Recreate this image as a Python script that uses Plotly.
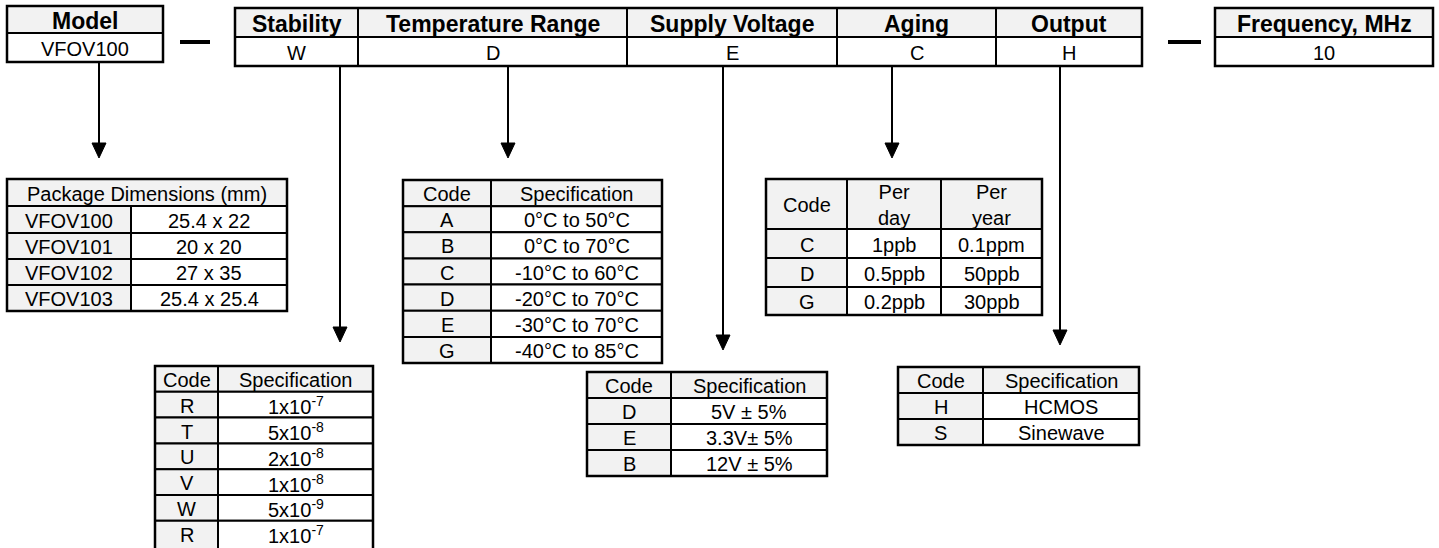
import plotly.graph_objects as go

W, H = 1439, 548

# ---------------- data ----------------
model_header = "Model"
model_value = "VFOV100"
field_names = ["Stability", "Temperature Range", "Supply Voltage", "Aging", "Output"]
field_values = ["W", "D", "E", "C", "H"]
freq_header = "Frequency, MHz"
freq_value = "10"

pkg_title = "Package Dimensions (mm)"
pkg_models = ["VFOV100", "VFOV101", "VFOV102", "VFOV103"]
pkg_dims = ["25.4 x 22", "20 x 20", "27 x 35", "25.4 x 25.4"]

spec_header = ["Code", "Specification"]

stab_codes = ["R", "T", "U", "V", "W", "R"]
stab_specs = ["1x10<sup>-7</sup>", "5x10<sup>-8</sup>", "2x10<sup>-8</sup>",
              "1x10<sup>-8</sup>", "5x10<sup>-9</sup>", "1x10<sup>-7</sup>"]

temp_codes = ["A", "B", "C", "D", "E", "G"]
temp_specs = ["0°C to 50°C", "0°C to 70°C", "-10°C to 60°C",
              "-20°C to 70°C", "-30°C to 70°C", "-40°C to 85°C"]

volt_codes = ["D", "E", "B"]
volt_specs = ["5V ± 5%", "3.3V± 5%", "12V ± 5%"]

aging_header = ["Code", "Per<br>day", "Per<br>year"]
aging_codes = ["C", "D", "G"]
aging_day = ["1ppb", "0.5ppb", "0.2ppb"]
aging_year = ["0.1ppm", "50ppb", "30ppb"]

out_codes = ["H", "S"]
out_specs = ["HCMOS", "Sinewave"]

# ---------------- style / layout ----------------
FONT = "Arial, Liberation Sans, sans-serif"
GRAY = "#f2f2f2"
LW = 2
CELL_FS = 20
HEAD_FS = 23

shapes = []
annotations = []


def rect(x0, y0, x1, y1, fill="white", lw=LW):
    shapes.append(dict(type="rect", xref="x", yref="y", x0=x0, y0=y0, x1=x1, y1=y1,
                       fillcolor=fill, line=dict(color="black", width=lw), layer="below"))


def text(x, y, s, size=CELL_FS, bold=False):
    annotations.append(dict(x=x, y=y, xref="x", yref="y", text=f"<b>{s}</b>" if bold else s,
                            showarrow=False, xanchor="center", yanchor="middle",
                            font=dict(family=FONT, size=size, color="black")))


def table(xs, ys, rows, header_span=False, gray_first_col=True, bold_header=False,
          head_size=CELL_FS, text_ys=None):
    """rows[0] is header row. xs/ys are edges."""
    for r, row in enumerate(rows):
        y0, y1 = ys[r], ys[r + 1]
        ty = text_ys[r] if text_ys else (y0 + y1) / 2 + 1
        if r == 0 and header_span:
            rect(xs[0], y0, xs[-1], y1, GRAY)
            text((xs[0] + xs[-1]) / 2, ty, row[0], head_size, bold_header)
            continue
        for c, val in enumerate(row):
            x0, x1 = xs[c], xs[c + 1]
            fill = GRAY if (r == 0 or (c == 0 and gray_first_col)) else "white"
            rect(x0, y0, x1, y1, fill)
            text((x0 + x1) / 2, ty, val,
                 head_size if r == 0 else CELL_FS, bold_header and r == 0)
    shapes.append(dict(type="rect", xref="x", yref="y", x0=xs[0], y0=ys[0], x1=xs[-1], y1=ys[-1],
                       line=dict(color="black", width=2.5), layer="below"))


def arrow(x, y0, tip, hw=7, hh=15):
    shapes.append(dict(type="line", xref="x", yref="y", x0=x, x1=x, y0=y0, y1=tip - hh + 2,
                       line=dict(color="black", width=2)))
    shapes.append(dict(type="path", xref="x", yref="y",
                       path=f"M {x - hw},{tip - hh} L {x + hw},{tip - hh} L {x},{tip} Z",
                       fillcolor="black", line=dict(color="black", width=1)))


def dash(x0, x1, y):
    shapes.append(dict(type="line", xref="x", yref="y", x0=x0, x1=x1, y0=y, y1=y,
                       line=dict(color="black", width=4)))


# top row boxes
table([7, 163], [6, 33, 62], [[model_header], [model_value]], gray_first_col=False,
      bold_header=True, head_size=HEAD_FS)
main_x = [235, 358, 627, 837, 996, 1142]
table(main_x, [8, 37, 66], [field_names, field_values], gray_first_col=False,
      bold_header=True, head_size=HEAD_FS)
table([1215, 1433], [8, 37, 66], [[freq_header], [freq_value]], gray_first_col=False,
      bold_header=True, head_size=HEAD_FS)
dash(180, 210, 42)
dash(1168, 1201, 42)

# package table
table([7, 131, 287], [179, 206, 233, 259, 285, 311],
      [[pkg_title]] + [[m, d] for m, d in zip(pkg_models, pkg_dims)], header_span=True)

# stability table (runs off the bottom edge, as in the original)
stab_rh = 25.8
stab_y = [366 + stab_rh * i for i in range(len(stab_codes) + 1)] + [556]
stab_ty = [366 + stab_rh * (i + 0.5) + 1 for i in range(len(stab_codes) + 1)]
table([155, 218, 373], stab_y, [spec_header] + [[c, s] for c, s in zip(stab_codes, stab_specs)],
      text_ys=stab_ty)

# temperature table
temp_y = [180 + 26.15 * i for i in range(len(temp_codes) + 2)]
table([403, 491, 662], temp_y, [spec_header] + [[c, s] for c, s in zip(temp_codes, temp_specs)])

# supply voltage table
volt_y = [372 + 26 * i for i in range(len(volt_codes) + 2)]
table([587, 671, 827], volt_y, [spec_header] + [[c, s] for c, s in zip(volt_codes, volt_specs)])

# aging table
table([766, 847, 941, 1042], [179, 229, 258, 287, 315],
      [aging_header] + [[c, d, y] for c, d, y in zip(aging_codes, aging_day, aging_year)])

# output table
out_y = [367 + 26 * i for i in range(len(out_codes) + 2)]
table([898, 983, 1139], out_y, [spec_header] + [[c, s] for c, s in zip(out_codes, out_specs)])

# arrows
arrow(99, 62, 158)
arrow(340, 66, 342)
arrow(508, 66, 158)
arrow(723, 66, 350)
arrow(892, 66, 158)
arrow(1060, 66, 345)

fig = go.Figure()
fig.update_layout(
    width=W, height=H,
    margin=dict(l=0, r=0, t=0, b=0, pad=0),
    paper_bgcolor="white", plot_bgcolor="white",
    xaxis=dict(range=[0, W], visible=False, fixedrange=True),
    yaxis=dict(range=[H, 0], visible=False, fixedrange=True),
    shapes=shapes, annotations=annotations, showlegend=False,
)

fig.write_html("out.html", config={"displayModeBar": False},
               post_script="document.body.style.margin='0';document.body.style.overflow='hidden';")
